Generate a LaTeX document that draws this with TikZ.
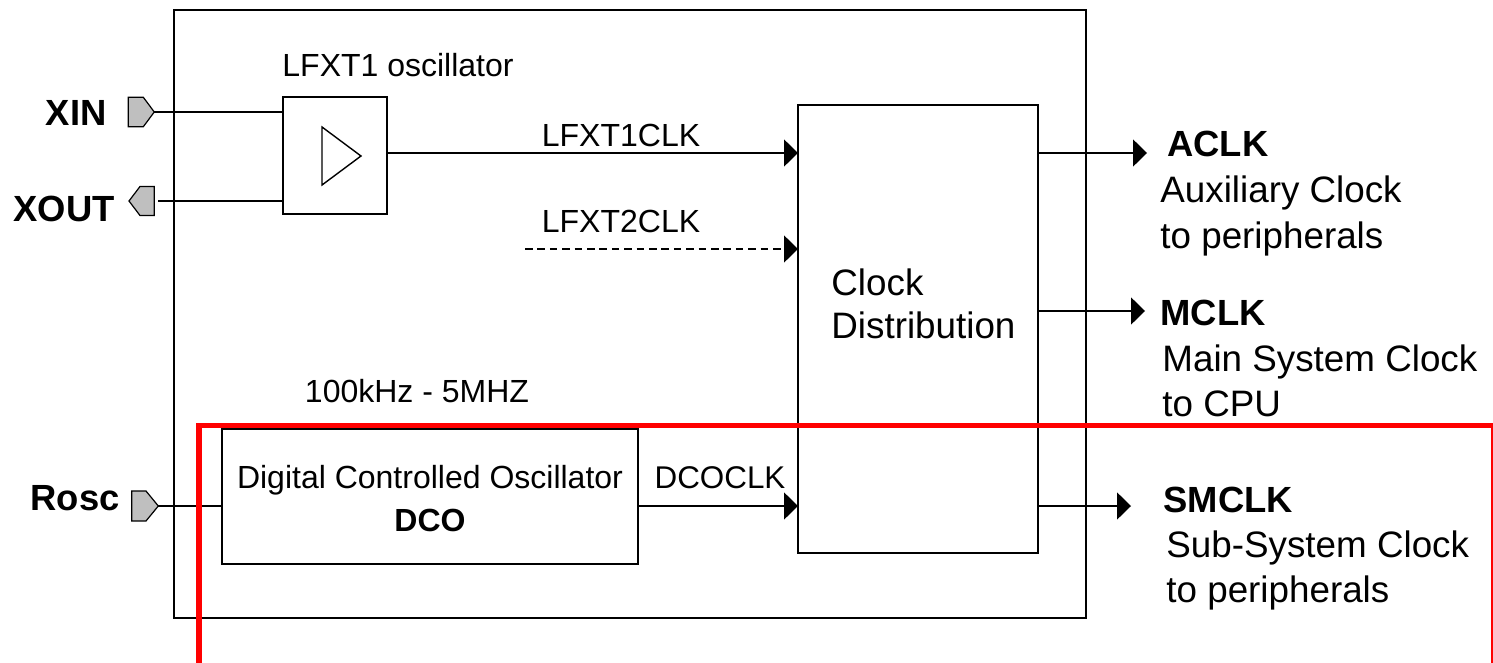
\documentclass[tikz,border=0pt]{standalone}
\usepackage{fontspec}
\setmainfont{Liberation Sans}
\usetikzlibrary{arrows.meta}
\begin{document}
\begin{tikzpicture}[x=0.5pt,y=-0.5pt,
  box/.style={draw, line width=0.8pt, inner sep=0pt, outer sep=0pt},
  wire/.style={line width=0.8pt},
  arr/.style={line width=0.8pt, -{Triangle[length=7pt,width=13.5pt]}},
  pin/.style={draw, line width=0.6pt, fill=black!25},
  sm/.style={font=\fontsize{16}{19}\selectfont, inner sep=0pt, anchor=base},
  bg/.style={font=\fontsize{18.4}{22}\selectfont, inner sep=0pt, anchor=base west},
  bgb/.style={font=\fontsize{18.2}{22}\selectfont\bfseries, inner sep=0pt}]
\useasboundingbox (0,0) rectangle (1493,663);

% boxes
\node[box, minimum width=456pt, minimum height=304pt] (chip) at (630,314) {};
\node[box, minimum width=52pt, minimum height=58.5pt] (osc) at (335,155.5) {};
\node[box, minimum width=120pt, minimum height=224pt] (cd) at (918,329) {};
\node[box, minimum width=208pt, minimum height=67.5pt] (dco) at (430,496.5) {};
\draw[line width=0.7pt] (322,127) -- (361,156) -- (322,185) -- cycle;

% pins
\draw[pin] (128.3,97.3) -- (143.3,97.3) -- (154.3,112) -- (143.3,126.7) -- (128.3,126.7) -- cycle;
\draw[pin] (154.3,186.5) -- (140,186.5) -- (129,201) -- (140,215.5) -- (154.3,215.5) -- cycle;
\draw[pin] (131.7,491) -- (146,491) -- (158.3,506) -- (146,521) -- (131.7,521) -- cycle;
\coordinate (xin) at (154.3,112);
\coordinate (xout) at (157.5,201);
\coordinate (rosc) at (158.3,506);
\coordinate (l1) at (387,153);
\coordinate (l2) at (525,249);
\coordinate (aclk) at (1147,153);
\coordinate (mclk) at (1145,311);
\coordinate (smclk) at (1131,506);

% connectors
\draw[wire] (xin) -- (xin -| osc.west);
\draw[wire] (xout -| osc.west) -- (xout);
\draw[wire] (rosc) -- (rosc -| dco.west);
\draw[arr] (osc.east |- l1) -- (l1 -| cd.west);
\draw[arr, dash pattern=on 3.8pt off 2.4pt] (l2) -- (l2 -| cd.west);
\draw[arr] (rosc -| dco.east) -- (rosc -| cd.west);
\draw[arr] (aclk -| cd.east) -- (aclk);
\draw[arr] (mclk -| cd.east) -- (mclk);
\draw[arr] (smclk -| cd.east) -- (smclk);

% labels
\node[sm] (tosc) at (398,77) {LFXT1 oscillator};
\node[sm] (tl1) at (621,147) {LFXT1CLK};
\node[sm] (tl2) at (621,233) {LFXT2CLK};
\node[sm] (tfreq) at (417,402) {100kHz - 5MHZ};
\node[sm] (tdco1) at (430,488) {Digital Controlled Oscillator};
\node[sm, font=\fontsize{16}{19}\selectfont\bfseries] (tdco2) at (430,531) {DCO};
\node[sm, font=\fontsize{15.7}{18}\selectfont] (tdcoclk) at (720,488) {DCOCLK};
\node[bg] (tcd1) at (831,295) {Clock};
\node[bg] (tcd2) at (831,338) {Distribution};
\node[bgb, anchor=base east] (txin) at (107,126) {XIN};
\node[bgb, anchor=base east] (txout) at (115,222) {XOUT};
\node[bgb, anchor=base east] (trosc) at (120,510) {Rosc};
\node[bgb, anchor=base west] (taclk) at (1167,157) {ACLK};
\node[bg] (ta1) at (1160,203) {Auxiliary Clock};
\node[bg] (ta2) at (1160,249) {to peripherals};
\node[bgb, anchor=base west] (tmclk) at (1160,325) {MCLK};
\node[bg] (tm1) at (1162,371) {Main System Clock};
\node[bg] (tm2) at (1162,416) {to CPU};
\node[bgb, anchor=base west] (tsmclk) at (1163,512) {SMCLK};
\node[bg] (ts1) at (1166,557) {Sub-System Clock};
\node[bg] (ts2) at (1166,602) {to peripherals};

% red outline
\draw[red, line width=2.7pt] (199,680) -- (199,425.5) -- (1494,425.5) -- (1494,680);
\end{tikzpicture}
\end{document}
